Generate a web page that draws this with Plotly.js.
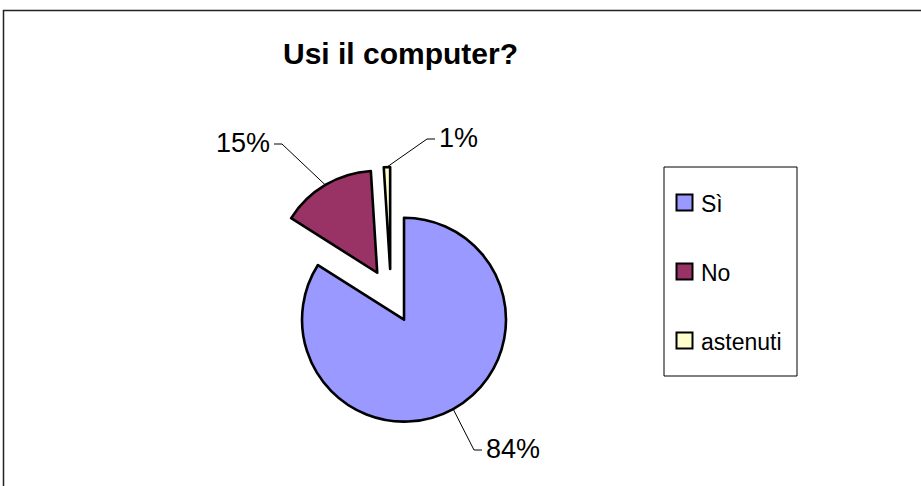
<!DOCTYPE html>
<html>
<head>
<meta charset="utf-8">
<script src="https://cdn.plot.ly/plotly-3.0.1.min.js"></script>
<style>html,body{margin:0;padding:0;background:#fff;}#chart{width:921px;height:486px;}</style>
</head>
<body>
<div id="chart"></div>
<script>
// ---- data ----
const categories = ['Sì', 'No', 'astenuti'];
const values = [84, 15, 1];
const colors = ['#9999FF', '#993366', '#FFFFCC'];
const titleText = 'Usi il computer?';

// ---- layout constants (pixels) ----
const W = 921, H = 486;
const FONT = '"Liberation Sans", Arial, sans-serif';
const pieCx = 391, pieCy = 296, pieHalf = 129, pull = 0.265;
// label text anchor positions [x, y, side] (side: text lies to the 'left' or 'right' of its leader)
const labelAnchors = [[484, 449, 'right'], [272, 143, 'left'], [437, 138, 'right']];
const px = x => x / W;
const py = y => 1 - y / H;

const total = values.reduce((a, b) => a + b, 0);
const pctText = values.map(v => Math.round(v / total * 100) + '%');

const trace = {
  type: 'pie',
  labels: categories,
  values: values,
  sort: false,
  direction: 'clockwise',
  rotation: 0,
  pull: values.map(() => pull),
  marker: {colors: colors, line: {color: '#000000', width: 2.6}},
  textinfo: 'none',
  hoverinfo: 'label+percent',
  showlegend: false,
  domain: {x: [px(pieCx - pieHalf), px(pieCx + pieHalf)], y: [py(pieCy + pieHalf), py(pieCy - pieHalf)]}
};

const shapes = [];
const annotations = [];

// outer frame
shapes.push({type: 'rect', xref: 'paper', yref: 'paper', x0: px(3.5), x1: 1.05, y0: py(10.5), y1: -0.05,
  line: {color: '#222', width: 1.5}, fillcolor: 'rgba(0,0,0,0)', layer: 'below'});

// percentage labels with leader lines (tip derived from slice mid-angle)
let cum = 0;
values.forEach((v, i) => {
  const th = (cum + v / 2) / total * 2 * Math.PI;
  cum += v;
  const tx = pieCx + pieHalf * Math.sin(th);
  const ty = pieCy - pieHalf * Math.cos(th);
  const [lx, ly, side] = labelAnchors[i];
  const dir = side === 'right' ? -1 : 1;
  const stubEnd = lx + dir * 2;
  const elbow = lx + dir * 10;
  const sy = ly + 1;
  shapes.push({type: 'path', xref: 'paper', yref: 'paper',
    path: `M ${px(tx)} ${py(ty)} L ${px(elbow)} ${py(sy)} L ${px(stubEnd)} ${py(sy)}`,
    line: {color: '#000', width: 1}});
  annotations.push({xref: 'paper', yref: 'paper', x: px(lx), y: py(ly),
    xanchor: side === 'right' ? 'left' : 'right', yanchor: 'middle',
    text: pctText[i], showarrow: false, font: {family: FONT, size: 27, color: '#000'}});
});

// legend box
const legX0 = 664, legX1 = 797, legY0 = 167, legY1 = 376;
shapes.push({type: 'rect', xref: 'paper', yref: 'paper', x0: px(legX0), x1: px(legX1), y0: py(legY0), y1: py(legY1),
  line: {color: '#000', width: 1}, fillcolor: '#fff'});
const legFirstY = 202.5, legStep = 69, keyX = 684.5, keyHalf = 8, legTextX = 699;
categories.forEach((c, i) => {
  const cy = legFirstY + i * legStep;
  shapes.push({type: 'rect', xref: 'paper', yref: 'paper',
    x0: px(keyX - keyHalf), x1: px(keyX + keyHalf), y0: py(cy - keyHalf), y1: py(cy + keyHalf),
    line: {color: '#000', width: 2}, fillcolor: colors[i]});
  annotations.push({xref: 'paper', yref: 'paper', x: px(legTextX), y: py(cy + 1),
    xanchor: 'left', yanchor: 'middle', text: c, showarrow: false,
    font: {family: FONT, size: 23, color: '#000'}});
});

const layout = {
  width: W, height: H,
  margin: {l: 0, r: 0, t: 0, b: 0},
  paper_bgcolor: '#ffffff',
  plot_bgcolor: '#ffffff',
  showlegend: false,
  title: {text: '<b>' + titleText + '</b>', font: {family: FONT, size: 30, color: '#000'},
    x: px(400.5), xanchor: 'center', xref: 'paper', y: py(53), yanchor: 'middle', yref: 'container'},
  shapes: shapes,
  annotations: annotations
};

Plotly.newPlot('chart', [trace], layout, {displayModeBar: false, staticPlot: true});
</script>
</body>
</html>
